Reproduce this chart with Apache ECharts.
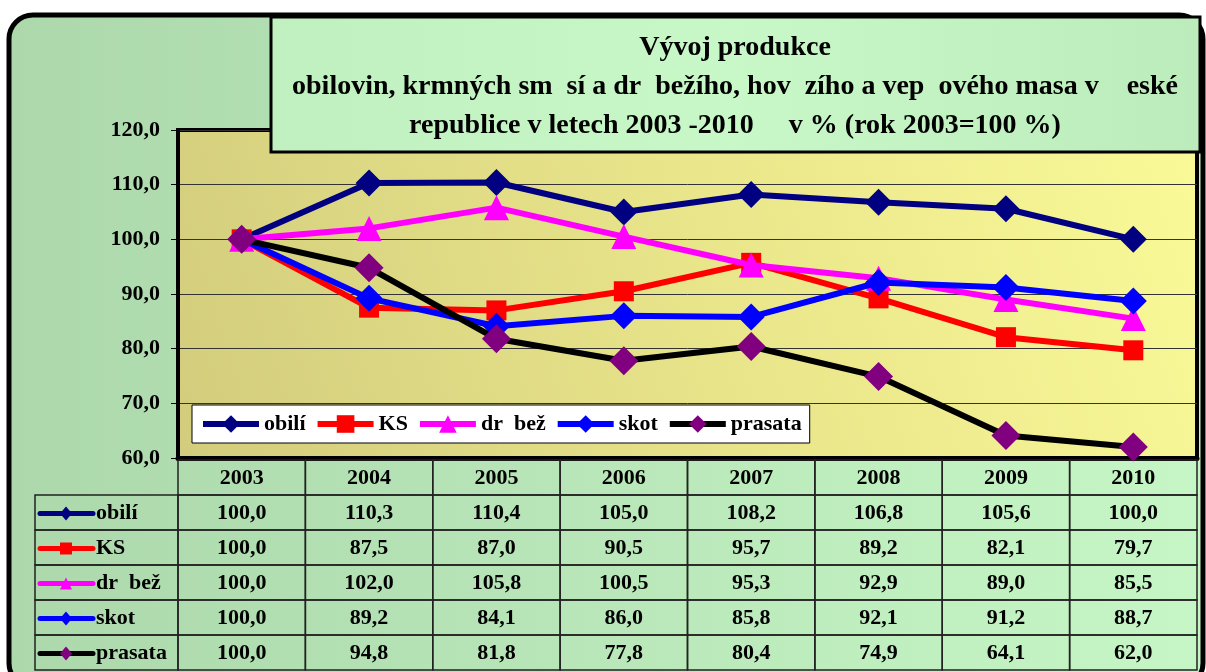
<!DOCTYPE html>
<html>
<head>
<meta charset="utf-8">
<script src="https://cdn.jsdelivr.net/npm/echarts@6/dist/echarts.min.js"></script>
<style>
  html, body { margin: 0; padding: 0; background: #fff; }
  #main { width: 1206px; height: 672px; }
</style>
</head>
<body>
<div id="main"></div>
<script>
// data
var years = ['2003', '2004', '2005', '2006', '2007', '2008', '2009', '2010'];
var obili = [100.0, 110.3, 110.4, 105.0, 108.2, 106.8, 105.6, 100.0];
var ks = [100.0, 87.5, 87.0, 90.5, 95.7, 89.2, 82.1, 79.7];
var drubez = [100.0, 102.0, 105.8, 100.5, 95.3, 92.9, 89.0, 85.5];
var skot = [100.0, 89.2, 84.1, 86.0, 85.8, 92.1, 91.2, 88.7];
var prasata = [100.0, 94.8, 81.8, 77.8, 80.4, 74.9, 64.1, 62.0];
var seriesNames = ['obilí', 'KS', 'dr  bež', 'skot', 'prasata'];
var titleLines = [
  'Vývoj produkce',
  'obilovin, krmných sm  sí a dr  bežího, hov  zího a vep  ového masa v    eské',
  'republice v letech 2003 -2010     v % (rok 2003=100 %)'
];

var seriesData = [obili, ks, drubez, skot, prasata];
var styles = [
  { line: '#000080', mark: '#000080', symbol: 'diamond', size: 27 },
  { line: '#ff0000', mark: '#ff0000', symbol: 'rect', size: 20 },
  { line: '#ff00ff', mark: '#ff00ff', symbol: 'triangle', size: 25 },
  { line: '#0000ff', mark: '#0000ff', symbol: 'diamond', size: 27 },
  { line: '#000000', mark: '#800080', symbol: 'diamond', size: 29 }
];

var FONT = '"Liberation Serif", "Times New Roman", serif';
var LABEL_W = 143;

function fmt(v) {
  return v.toFixed(1).replace('.', ',');
}

// table cells: header row 0 + one row per series, col -1 = row label
var cells = [];
for (var r = 0; r <= seriesNames.length; r++) {
  for (var c = -1; c < years.length; c++) {
    if (r === 0 && c === -1) continue;
    cells.push([c, r]);
  }
}

function cellText(c, r) {
  if (r === 0) return years[c];
  if (c < 0) return seriesNames[r - 1];
  return fmt(seriesData[r - 1][c]);
}

function markerShape(type, cx, cy, s, color) {
  if (type === 'rect') {
    return { type: 'rect', shape: { x: cx - s, y: cy - s, width: 2 * s, height: 2 * s }, style: { fill: color } };
  }
  if (type === 'triangle') {
    return { type: 'polygon', shape: { points: [[cx, cy - s], [cx + s, cy + s], [cx - s, cy + s]] }, style: { fill: color } };
  }
  return { type: 'polygon', shape: { points: [[cx, cy - s - 1], [cx + s, cy], [cx, cy + s + 1], [cx - s, cy]] }, style: { fill: color } };
}

function renderTable(params, api) {
  var c = api.value(0), r = api.value(1);
  var sz = api.size([1, 1]);
  var p = api.coord([Math.max(c, 0), r]);
  var w = sz[0], h = sz[1];
  var x = p[0] - w / 2, y = p[1] - h / 2;
  if (c < 0) {
    w = LABEL_W;
    x = x - LABEL_W;
  }
  var txt = cellText(c, r);
  var children = [{
    type: 'rect',
    shape: { x: x, y: y, width: w, height: h },
    style: { fill: 'none', stroke: '#222', lineWidth: 1.5 }
  }];
  var cy = y + h / 2 + 1;
  if (c < 0) {
    var st = styles[r - 1];
    children.push({ type: 'line', shape: { x1: x + 5, y1: cy, x2: x + 58, y2: cy }, style: { stroke: st.line, lineWidth: 5, lineCap: 'round' } });
    children.push(markerShape(st.symbol, x + 31, cy, 6, st.mark));
    children.push({ type: 'text', x: x + 61, y: cy, style: { text: txt, verticalAlign: 'middle', align: 'left', font: 'bold 22px ' + FONT, fill: '#000' } });
  } else {
    children.push({ type: 'text', x: x + w / 2, y: cy, style: { text: txt, verticalAlign: 'middle', align: 'center', font: 'bold 22px ' + FONT, fill: '#000' } });
  }
  return { type: 'group', children: children };
}

var chart = echarts.init(document.getElementById('main'));

var series = seriesNames.map(function (name, i) {
  return {
    name: name,
    type: 'line',
    xAxisIndex: 0,
    yAxisIndex: 0,
    data: seriesData[i],
    symbol: styles[i].symbol,
    symbolSize: styles[i].size,
    lineStyle: { color: styles[i].line, width: 6 },
    itemStyle: { color: styles[i].mark },
    z: 3 + i,
    animation: false
  };
});

series.push({
  type: 'custom',
  xAxisIndex: 1,
  yAxisIndex: 1,
  renderItem: renderTable,
  data: cells,
  silent: true,
  animation: false
});

var option = {
  animation: false,
  graphic: [
    {
      type: 'rect',
      z: -100,
      shape: { x: 9, y: 15, width: 1194, height: 672, r: 24 },
      style: {
        fill: new echarts.graphic.LinearGradient(0, 0, 1, 0, [
          { offset: 0, color: '#acd8ac' },
          { offset: 1, color: '#c6f6c6' }
        ]),
        stroke: '#000',
        lineWidth: 5
      }
    },
    {
      type: 'rect',
      z: 100,
      shape: { x: 271, y: 17, width: 929, height: 135 },
      style: {
        fill: new echarts.graphic.LinearGradient(0, 0, 1, 0, [
          { offset: 0, color: '#c0f0c0' },
          { offset: 0.5, color: '#c8f8c8' },
          { offset: 1, color: '#bcecbc' }
        ]),
        stroke: '#000',
        lineWidth: 3
      }
    },
    {
      type: 'text',
      z: 101,
      x: 735,
      y: 28,
      style: {
        text: titleLines.join('\n'),
        align: 'center',
        font: 'bold 28px ' + FONT,
        lineHeight: 39,
        fill: '#000'
      }
    }
  ],
  legend: {
    left: 192,
    top: 405,
    data: seriesNames,
    backgroundColor: '#fff',
    borderColor: '#000',
    borderWidth: 1,
    borderRadius: 0,
    padding: [8, 8, 8, 8],
    itemWidth: 56,
    itemHeight: 22,
    itemGap: 9,
    lineStyle: { width: 6 },
    textStyle: { fontFamily: FONT, fontWeight: 'bold', fontSize: 22, color: '#000' }
  },
  grid: [
    {
      left: 178, top: 130, width: 1019, height: 328,
      show: true,
      borderColor: '#000',
      borderWidth: 4,
      backgroundColor: new echarts.graphic.LinearGradient(0, 1, 1, 0, [
        { offset: 0, color: '#d2cc7c' },
        { offset: 0.5, color: '#e8e48a' },
        { offset: 1, color: '#fafa98' }
      ])
    },
    { left: 178, top: 460, width: 1019, height: 210 }
  ],
  xAxis: [
    {
      type: 'category',
      gridIndex: 0,
      data: years,
      boundaryGap: true,
      axisLabel: { show: false },
      axisTick: { show: false },
      axisLine: { lineStyle: { color: '#000', width: 5 } }
    },
    {
      type: 'category',
      gridIndex: 1,
      data: years,
      show: false
    }
  ],
  yAxis: [
    {
      type: 'value',
      gridIndex: 0,
      min: 60,
      max: 120,
      interval: 10,
      axisLine: { show: true, lineStyle: { color: '#000', width: 4 } },
      axisTick: { show: true, length: 7, lineStyle: { color: '#000', width: 1 } },
      axisLabel: {
        margin: 18,
        formatter: function (v) { return fmt(v); },
        fontFamily: FONT, fontWeight: 'bold', fontSize: 22, color: '#000'
      },
      splitLine: { lineStyle: { color: '#333', width: 1 } }
    },
    {
      type: 'category',
      gridIndex: 1,
      data: ['hdr'].concat(seriesNames),
      inverse: true,
      show: false
    }
  ],
  series: series
};

chart.setOption(option);
</script>
</body>
</html>
